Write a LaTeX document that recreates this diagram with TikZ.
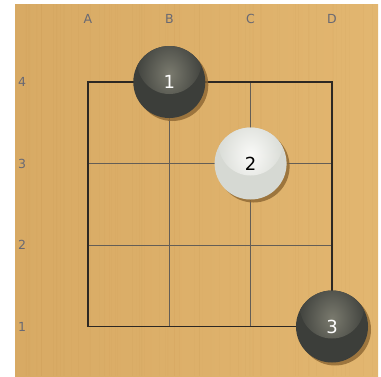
\documentclass[tikz,border=0pt]{standalone}
\usepackage{fontspec}
\setsansfont{DejaVu Sans}
\usetikzlibrary{shadows}
\definecolor{woodL}{RGB}{216,170,100}
\definecolor{woodR}{RGB}{226,182,112}
\definecolor{grain}{RGB}{190,140,70}
\definecolor{edgeline}{RGB}{45,40,35}
\definecolor{gridline}{RGB}{100,94,86}
\definecolor{labelcol}{RGB}{105,105,115}
\definecolor{blackstone}{RGB}{60,62,58}
\definecolor{blackhl}{RGB}{122,122,110}
\definecolor{whitestone}{RGB}{214,217,211}
\definecolor{whitehl}{RGB}{250,250,248}
\definecolor{shadowcol}{RGB}{140,102,50}

\begin{document}
\begin{tikzpicture}[
  x=1pt, y=-1pt,
  coordlabel/.style={text=labelcol, font=\sffamily\fontsize{12.5}{14}\selectfont},
  stone/.style={
    circle, minimum size=72pt, inner sep=0pt,
    font=\sffamily\fontsize{18}{20}\selectfont,
    drop shadow={shadow xshift=3pt, shadow yshift=-3pt, fill=shadowcol, opacity=0.8}
  },
  blackstone/.style={stone, fill=blackstone, text=white,
    path picture={\shade[inner color=blackhl, outer color=blackstone]
      ([yshift=20pt]path picture bounding box.center) circle (32pt);}},
  whitestone/.style={stone, fill=whitestone, text=black,
    path picture={\shade[inner color=whitehl, outer color=whitestone]
      ([yshift=20pt]path picture bounding box.center) circle (32pt);}},
  edge/.style={draw=edgeline, line width=1.1pt},
  inner/.style={draw=gridline, line width=1pt},
]
\useasboundingbox (0,0) rectangle (381,376);

% --- Wooden board ---
\shade[left color=woodL, right color=woodR] (15,4) rectangle (378,376);
\pgfmathsetseed{7}
\foreach \i in {1,...,70}{
  \pgfmathsetmacro{\gx}{15+363*rnd}
  \pgfmathsetmacro{\go}{0.02+0.06*rnd}
  \draw[grain, opacity=\go, line width=0.6pt] (\gx,4) -- (\gx,376);
}

% --- Coordinates ---
\foreach \col [count=\k from 0] in {A,B,C,D}
  \node[coordlabel] (col\col) at (88+81.3*\k,19) {\col};
\foreach \row [count=\k from 0] in {4,3,2,1}
  \node[coordlabel] (row\row) at (22,82+81.5*\k) {\row};

% --- Grid ---
\foreach \k in {1,2}{
  \draw[inner] (88+81.3*\k,82) -- (88+81.3*\k,326.5);
  \draw[inner] (88,82+81.5*\k) -- (332,82+81.5*\k);
}
\draw[edge] (88,82) rectangle (332,326.5);

% --- Stones ---
\node[blackstone] (s1) at (169.3,82) {1};
\node[whitestone] (s2) at (250.6,163.5) {2};
\node[blackstone] (s3) at (332,326.5) {3};

\end{tikzpicture}
\end{document}
